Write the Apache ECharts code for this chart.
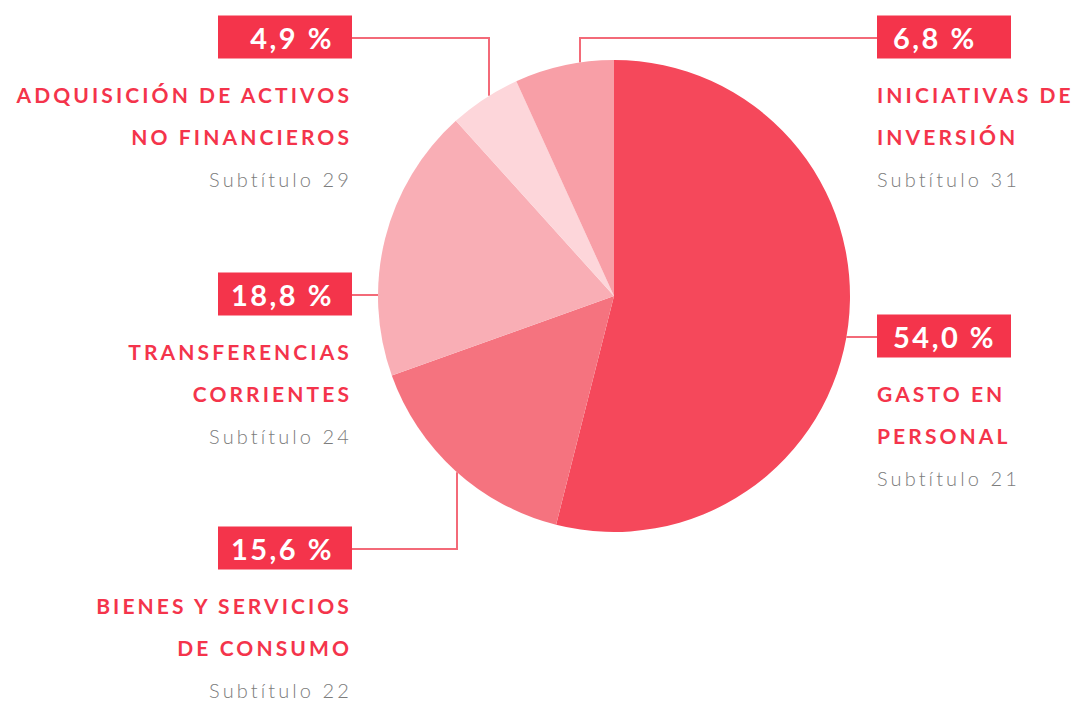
<!DOCTYPE html>
<html>
<head>
<meta charset="utf-8">
<script src="https://cdn.jsdelivr.net/npm/echarts@6/dist/echarts.min.js"></script>
<style>
  html, body { margin: 0; padding: 0; background: #fff; }
  #chart { width: 1074px; height: 702px; }
  #chart text { letter-spacing: 3.1px; }
  #chart text[fill="#fff"] { letter-spacing: 2.5px; }
</style>
</head>
<body>
<div id="chart"></div>
<script>
// Distribución del gasto por subtítulo (%)
const shares = [54.0, 15.6, 18.8, 4.9, 6.8]
const titleTop = ['GASTO EN', 'BIENES Y SERVICIOS', 'TRANSFERENCIAS', 'ADQUISICIÓN DE ACTIVOS', 'INICIATIVAS DE']
const titleBottom = ['PERSONAL', 'DE CONSUMO', 'CORRIENTES', 'NO FINANCIEROS', 'INVERSIÓN']
const subtitles = ['Subtítulo 21', 'Subtítulo 22', 'Subtítulo 24', 'Subtítulo 29', 'Subtítulo 31']

const sliceColors = ['#f5485b', '#f5737f', '#f9aeb5', '#fdd6da', '#f89fa7']

// where each label sits: side, vertical centre of the % box, x of the elbow (null = straight line)
const labelSpots = [
  { side: 'right', boxY: 337, elbowX: null },
  { side: 'left', boxY: 549, elbowX: 457 },
  { side: 'left', boxY: 295, elbowX: null },
  { side: 'left', boxY: 38, elbowX: 489 },
  { side: 'right', boxY: 38, elbowX: 580 },
]

const CX = 614
const CY = 296
const R = 236
const LEFT_EDGE = 352
const RIGHT_EDGE = 877
const RED = '#f4344b'

const fmtPct = (v) => v.toFixed(1).replace('.', ',') + ' %'

const boxStyle = (padding) => ({
  backgroundColor: RED,
  color: '#fff',
  fontFamily: 'Lato',
  fontSize: 29,
  fontWeight: 'bold',
  width: 134 - padding[1] - padding[3],
  height: 43,
  lineHeight: 72,
  padding,
})

const chart = echarts.init(document.getElementById('chart'), null, { renderer: 'svg' })

chart.setOption({
  animation: false,
  series: [{
    type: 'pie',
    center: [CX, CY],
    radius: R,
    startAngle: 90,
    clockwise: true,
    avoidLabelOverlap: false,
    emphasis: { disabled: true },
    itemStyle: { borderWidth: 0 },
    data: shares.map((v, i) => ({
      value: v,
      name: titleTop[i],
      itemStyle: { color: sliceColors[i] },
    })),
    label: {
      show: true,
      position: 'outside',
      fontFamily: 'Lato',
      formatter: (p) => {
        const i = p.dataIndex
        const box = labelSpots[i].side === 'left' ? 'boxL' : 'boxR'
        return `{${box}|${fmtPct(shares[i])}}\n{name|${titleTop[i]}}\n{name|${titleBottom[i]}}\n{sub|${subtitles[i]}}`
      },
      rich: {
        boxL: boxStyle([0, 18, 0, 10]),
        boxR: boxStyle([0, 10, 0, 16]),
        name: {
          color: RED,
          fontFamily: 'Lato',
          fontSize: 21,
          fontWeight: 'bold',
          lineHeight: 42,
        },
        sub: {
          color: '#7c7c7c',
          fontFamily: 'Lato',
          fontSize: 20,
          fontWeight: 300,
          lineHeight: 44,
        },
      },
    },
    labelLine: {
      show: true,
      smooth: false,
      lineStyle: { color: '#f36a78', width: 2 },
    },
    labelLayout: (params) => {
      const spot = labelSpots[params.dataIndex]
      const edgeX = spot.side === 'left' ? LEFT_EDGE : RIGHT_EDGE
      let points
      if (spot.elbowX == null) {
        const dx = Math.sqrt(R * R - (spot.boxY - CY) ** 2)
        const px = spot.side === 'left' ? CX - dx : CX + dx
        points = [[px, spot.boxY], [(px + edgeX) / 2, spot.boxY], [edgeX, spot.boxY]]
      } else {
        const dy = Math.sqrt(R * R - (spot.elbowX - CX) ** 2)
        const py = spot.boxY < CY ? CY - dy : CY + dy
        points = [[spot.elbowX, py], [spot.elbowX, spot.boxY], [edgeX, spot.boxY]]
      }
      return {
        x: edgeX,
        y: spot.boxY - 37,
        align: spot.side === 'left' ? 'right' : 'left',
        verticalAlign: 'top',
        labelLinePoints: points,
      }
    },
  }],
})

window.addEventListener('resize', () => {
  chart.resize()
})
</script>
</body>
</html>
